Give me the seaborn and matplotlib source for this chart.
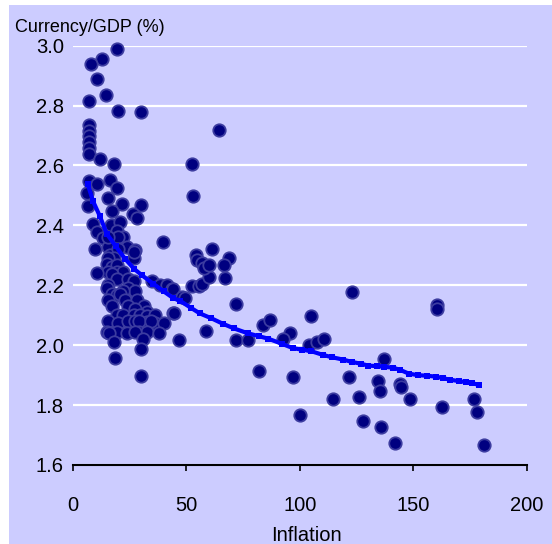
import matplotlib
matplotlib.use("Agg")
import matplotlib.pyplot as plt
from matplotlib.patches import Rectangle
import seaborn as sns
import pandas as pd

# Country observations: inflation (%) vs currency-to-GDP ratio (%)
inflation = [
    19.4, 12.8, 7.9, 10.8, 14.7, 7.3, 20.1, 30.2, 64.5,
    7.2, 7.2, 7.2, 7.2, 7.2, 7.2,
    12.0, 18.3, 52.5, 52.8, 7.2, 10.8, 16.4, 19.4, 6.5, 15.7, 21.6, 30.0, 6.9,
    17.1, 26.6, 28.2, 9.1, 16.9, 20.8, 10.8, 19.4, 22.3, 13.5, 39.9, 9.6,
    15.7, 23.8, 27.5, 27.2, 16.4, 17.9, 20.1, 15.7, 20.1, 26.8, 18.1, 15.7,
    14.9, 17.1, 19.4, 19.4, 15.7, 22.3, 10.6, 17.2, 19.4, 24.5, 26.8, 15.7,
    14.9, 24.5, 27.6, 22.3, 17.5, 19.4, 20.8, 15.7, 23.1, 28.3, 17.1, 24.5,
    31.2, 27.6, 32.7, 19.4, 22.3, 26.8, 29.7, 32.7, 36.3, 15.7, 20.1, 24.5,
    27.6, 32.7, 36.3, 40.0, 29.4, 34.6, 14.9, 19.4, 23.8, 29.1, 32.7, 37.9,
    27.6, 15.9, 18.2, 31.1, 30.0, 18.6, 30.0, 44.3,
    34.8, 38.5, 41.4, 43.6, 44.1, 48.0, 49.5, 52.5, 55.4, 56.9, 59.8, 67.1,
    68.6, 66.4, 61.3, 54.4, 54.7, 56.9, 57.6, 60.2, 71.9, 44.7, 58.6, 46.6,
    72.0, 77.0, 82.1, 83.6, 86.7,
    122.8, 104.9, 95.8, 92.6, 103.9, 107.6, 110.5, 136.9, 96.8, 121.5, 134.3,
    135.2, 144.0, 144.4, 114.4, 125.9, 100.2, 127.8, 135.9, 141.8, 160.2,
    160.2, 148.4, 162.7, 176.6, 177.8, 181.0,
]
currency_gdp = [
    2.988, 2.955, 2.940, 2.890, 2.837, 2.814, 2.783, 2.779, 2.720,
    2.735, 2.715, 2.700, 2.680, 2.660, 2.640,
    2.623, 2.606, 2.604, 2.497, 2.549, 2.537, 2.552, 2.524, 2.508, 2.492, 2.473, 2.467, 2.466,
    2.449, 2.438, 2.424, 2.405, 2.402, 2.412, 2.378, 2.380, 2.360, 2.358, 2.346, 2.322,
    2.328, 2.328, 2.317, 2.292, 2.300, 2.267, 2.360, 2.362, 2.320, 2.310, 2.290, 2.290,
    2.270, 2.260, 2.268, 2.245, 2.245, 2.245, 2.240, 2.238, 2.220, 2.222, 2.215, 2.200,
    2.190, 2.190, 2.180, 2.180, 2.170, 2.168, 2.172, 2.150, 2.150, 2.152, 2.130, 2.130,
    2.130, 2.120, 2.110, 2.100, 2.100, 2.100, 2.100, 2.098, 2.100, 2.080, 2.075, 2.080,
    2.082, 2.078, 2.075, 2.075, 2.080, 2.080, 2.045, 2.045, 2.042, 2.045, 2.045, 2.040,
    2.045, 2.040, 2.012, 2.020, 1.987, 1.958, 1.897, 2.106,
    2.216, 2.200, 2.200, 2.189, 2.187, 2.162, 2.159, 2.198, 2.198, 2.206, 2.228, 2.226,
    2.292, 2.267, 2.320, 2.302, 2.284, 2.273, 2.258, 2.267, 2.138, 2.107, 2.047, 2.017,
    2.017, 2.019, 1.914, 2.067, 2.083,
    2.179, 2.099, 2.040, 2.021, 2.000, 2.011, 2.022, 1.955, 1.893, 1.893, 1.880,
    1.847, 1.872, 1.862, 1.820, 1.827, 1.767, 1.748, 1.728, 1.673, 2.135,
    2.122, 1.819, 1.794, 1.820, 1.778, 1.667,
]

# Fitted trend of currency/GDP on inflation
fit_inflation = [
    6.6, 9, 12, 15, 19, 23, 27, 30.4, 35.5, 40, 44.3, 47.3, 52, 56, 61, 66,
    71, 77, 82, 86, 92, 97, 101, 105, 110, 114, 119, 123, 127, 130, 134, 137,
    141, 144, 148, 152, 156, 160, 163, 166, 170, 173, 176, 179,
]
fit_currency_gdp = [
    2.538, 2.480, 2.430, 2.372, 2.330, 2.289, 2.255, 2.234, 2.205, 2.180, 2.157,
    2.148, 2.125, 2.106, 2.090, 2.072, 2.056, 2.040, 2.030, 2.022, 2.005, 1.990,
    1.985, 1.980, 1.968, 1.960, 1.952, 1.944, 1.938, 1.932, 1.930, 1.928, 1.925,
    1.918, 1.905, 1.900, 1.898, 1.895, 1.890, 1.885, 1.880, 1.877, 1.873, 1.867,
]

x_ticks = [0, 50, 100, 150, 200]
y_ticks = [1.6, 1.8, 2.0, 2.2, 2.4, 2.6, 2.8, 3.0]

obs = pd.DataFrame({"Inflation": inflation, "Currency/GDP": currency_gdp})
fit = pd.DataFrame({"Inflation": fit_inflation, "Currency/GDP": fit_currency_gdp})

sns.set_theme(style="white")
plt.rcParams["font.family"] = ["Liberation Sans", "DejaVu Sans"]

BG = "#ccccff"
W, H = 552, 544
fig = plt.figure(figsize=(W / 100, H / 100), dpi=100, facecolor="white")
fig.patches.append(Rectangle((9 / W, 0), 1 - 9 / W, 1 - 5 / H,
                             transform=fig.transFigure, facecolor=BG,
                             edgecolor="none", zorder=-10))

x0, x1 = 72.7, 527.0
y_bot, y_top = 465.0, 45.7
ax = fig.add_axes([x0 / W, 1 - y_bot / H, (x1 - x0) / W, (y_bot - y_top) / H])
ax.set_facecolor(BG)

sns.scatterplot(data=obs, x="Inflation", y="Currency/GDP", ax=ax,
                s=80, color="#000080", edgecolor="#3c3ca0", linewidth=1.3,
                zorder=3, clip_on=False, legend=False)
sns.lineplot(data=fit, x="Inflation", y="Currency/GDP", ax=ax,
             color="#0000ff", linewidth=3, marker="s", markersize=4,
             markeredgewidth=0, zorder=4, sort=True, legend=False)

ax.set_xlim(0, 200)
ax.set_ylim(1.6, 3.0)
ax.set_xticks(x_ticks)
ax.set_xticklabels([str(t) for t in x_ticks])
ax.set_yticks(y_ticks)
ax.set_yticklabels([f"{t:.1f}" for t in y_ticks])
ax.set_xlabel("")
ax.set_ylabel("")

ax.yaxis.grid(True, color="white", linewidth=1.6, zorder=1)
ax.xaxis.grid(False)
ax.set_axisbelow(True)
for side in ["top", "right", "left"]:
    ax.spines[side].set_visible(False)
ax.spines["bottom"].set_color("black")
ax.spines["bottom"].set_linewidth(1.5)
ax.spines["bottom"].set_zorder(5)

ax.tick_params(axis="x", direction="out", length=4, width=1.2, color="black",
               pad=18.5, labelsize=14.5, labelcolor="black", bottom=True)
ax.tick_params(axis="y", length=0, pad=6.3, labelsize=14.5, labelcolor="black")

fig.text(15 / W, 1 - 32 / H, "Currency/GDP (%)", fontsize=13, color="black",
         ha="left", va="baseline")
fig.text(306 / W, 1 - 541 / H, "Inflation", fontsize=14.5, color="black",
         ha="center", va="baseline")

fig.savefig("out.png", dpi=100, facecolor=fig.get_facecolor())
